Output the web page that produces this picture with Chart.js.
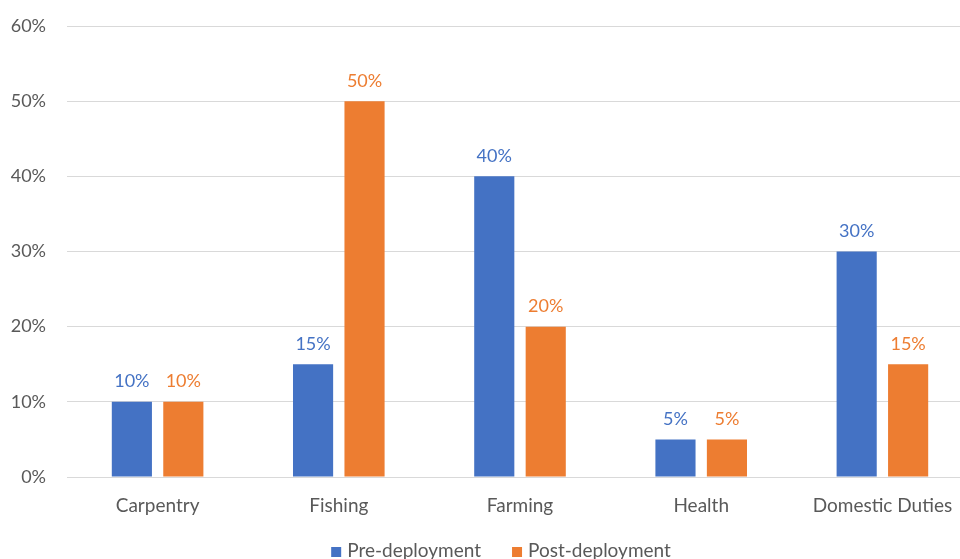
<!DOCTYPE html>
<html>
<head>
<meta charset="utf-8">
<script src="https://cdn.jsdelivr.net/npm/chart.js@4/dist/chart.umd.min.js"></script>
<style>
  html, body { margin: 0; padding: 0; background: #fff; overflow: hidden; width: 960px; height: 559px; }
  canvas { display: block; }
</style>
</head>
<body>
<canvas id="c" width="980" height="559"></canvas>
<script>
const categories = ["Carpentry", "Fishing", "Farming", "Health", "Domestic Duties"];
const preDeployment = [10, 15, 40, 5, 30];
const postDeployment = [10, 50, 20, 5, 15];
const seriesNames = ["Pre-deployment", "Post-deployment"];
const yTicks = [0, 10, 20, 30, 40, 50, 60];

const BLUE = "#4472C4";
const ORANGE = "#ED7D31";
const TEXT = "#595959";
const FONT = "Lato, 'Liberation Sans', sans-serif";

const valueLabels = {
  id: "valueLabels",
  afterDatasetsDraw(chart) {
    const ctx = chart.ctx;
    ctx.save();
    ctx.font = "18px " + FONT;
    ctx.textAlign = "center";
    ctx.textBaseline = "alphabetic";
    chart.data.datasets.forEach((ds, i) => {
      const meta = chart.getDatasetMeta(i);
      ctx.fillStyle = ds.backgroundColor;
      meta.data.forEach((bar, j) => {
        ctx.fillText(ds.data[j] + "%", bar.x, bar.y - 14.5);
      });
    });
    ctx.restore();
  }
};

const customLegend = {
  id: "customLegend",
  afterDraw(chart) {
    const ctx = chart.ctx;
    ctx.save();
    ctx.font = "19px " + FONT;
    ctx.textBaseline = "alphabetic";
    const box = 10, gapText = 6, gapItem = 31;
    const widths = seriesNames.map(n => ctx.measureText(n).width);
    const total = widths.reduce((a, w) => a + box + gapText + w, 0) + gapItem * (seriesNames.length - 1);
    let x = 501 - total / 2;
    const baseline = 557;
    chart.data.datasets.forEach((ds, i) => {
      ctx.fillStyle = ds.backgroundColor;
      ctx.fillRect(x, baseline - 10, box, box);
      x += box + gapText;
      ctx.fillStyle = TEXT;
      ctx.fillText(seriesNames[i], x, baseline);
      x += widths[i] + gapItem;
    });
    ctx.restore();
  }
};

new Chart(document.getElementById("c"), {
  type: "bar",
  data: {
    labels: categories,
    datasets: [
      { label: seriesNames[0], data: preDeployment, backgroundColor: BLUE, categoryPercentage: 0.568, barPercentage: 0.78 },
      { label: seriesNames[1], data: postDeployment, backgroundColor: ORANGE, categoryPercentage: 0.568, barPercentage: 0.78 }
    ]
  },
  options: {
    responsive: false,
    animation: false,
    devicePixelRatio: 1,
    layout: { padding: { top: 26, right: 7, left: 0, bottom: 0 } },
    plugins: { legend: { display: false }, tooltip: { enabled: false } },
    scales: {
      x: {
        grid: { display: false },
        border: { display: false },
        ticks: { color: TEXT, font: { family: FONT, size: 19 }, padding: 9, maxRotation: 0, autoSkip: false },
        afterFit(s) { s.height = 82; s.paddingLeft = 0; s.paddingRight = 0; }
      },
      y: {
        min: 0,
        max: 60,
        afterBuildTicks(s) { s.ticks = yTicks.map(v => ({ value: v })); },
        grid: { color: "#D9D9D9", lineWidth: 1, drawTicks: false },
        border: { display: false },
        ticks: { color: TEXT, font: { family: FONT, size: 18 }, padding: 21, callback: v => v + "%" },
        afterFit(s) { s.width = 67; s.paddingTop = 0; s.paddingBottom = 0; }
      }
    }
  },
  plugins: [valueLabels, customLegend]
});
</script>
</body>
</html>
